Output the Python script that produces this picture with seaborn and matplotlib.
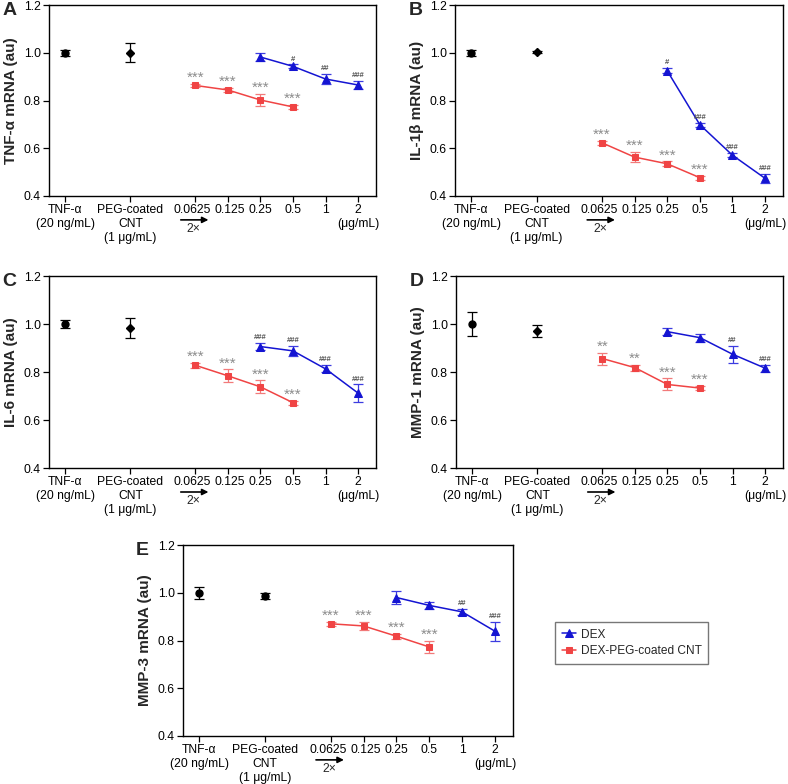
import numpy as np
import seaborn as sns
import matplotlib
matplotlib.use("Agg")
import matplotlib.pyplot as plt
import matplotlib.transforms as mtransforms

# categories on the x axis
tick_labels = ["TNF-\u03b1\n(20 ng/mL)", "PEG-coated\nCNT\n(1 \u03bcg/mL)", "0.0625", "0.125",
               "0.25", "0.5", "1", "2\n(\u03bcg/mL)"]
tick_pos = [0, 2, 4, 5, 6, 7, 8, 9]
red_pos = [4, 5, 6, 7]
blue_pos = [6, 7, 8, 9]

panels = ["A", "B", "C", "D", "E"]
ylabels = ["TNF-\u03b1 mRNA (au)", "IL-1\u03b2 mRNA (au)", "IL-6 mRNA (au)",
           "MMP-1 mRNA (au)", "MMP-3 mRNA (au)"]

# controls: TNF-a, PEG-coated CNT
tnf_val = [1.0, 1.0, 1.0, 1.0, 1.0]
tnf_err = [0.013, 0.013, 0.018, 0.05, 0.026]
peg_val = [1.0, 1.003, 0.984, 0.970, 0.986]
peg_err = [0.04, 0.005, 0.042, 0.025, 0.012]

# DEX-PEG-coated CNT (0.0625 .. 0.5)
red_val = [[0.863, 0.844, 0.802, 0.773],
           [0.623, 0.563, 0.535, 0.477],
           [0.828, 0.784, 0.738, 0.672],
           [0.856, 0.818, 0.748, 0.733],
           [0.870, 0.861, 0.818, 0.773]]
red_err = [[0.008, 0.01, 0.024, 0.01],
           [0.008, 0.02, 0.01, 0.008],
           [0.01, 0.027, 0.027, 0.008],
           [0.025, 0.012, 0.025, 0.01],
           [0.008, 0.018, 0.01, 0.027]]
red_sig = [["***"] * 4, ["***"] * 4, ["***"] * 4,
           ["**", "**", "***", "***"], ["***"] * 4]

# DEX (0.25 .. 2)
blue_val = [[0.982, 0.943, 0.890, 0.865],
            [0.925, 0.699, 0.571, 0.474],
            [0.906, 0.888, 0.813, 0.712],
            [0.968, 0.943, 0.874, 0.816],
            [0.980, 0.947, 0.920, 0.839]]
blue_err = [[0.017, 0.008, 0.02, 0.015],
            [0.01, 0.008, 0.008, 0.02],
            [0.015, 0.02, 0.015, 0.036],
            [0.015, 0.017, 0.035, 0.015],
            [0.027, 0.013, 0.012, 0.04]]
blue_sig = [["", "#", "##", "###"],
            ["#", "###", "###", "###"],
            ["###", "###", "###", "###"],
            ["", "", "##", "###"],
            ["", "", "##", "###"]]

peg_marker = ["D", "D", "D", "D", "o"]

sns.set_style("ticks")
plt.rcParams['font.family'] = ['Liberation Sans', 'DejaVu Sans']

fig = plt.figure(figsize=(7.88, 7.84), dpi=100)
W, H = 788.0, 784.0
boxes = [(49, 5, 376, 196), (455, 5, 783, 196), (49, 276, 376, 468),
         (456, 276, 783, 468), (183, 545, 513, 736)]

blue = "#1414d2"
red = "#f04444"
ebk = dict(capsize=3.4, elinewidth=0.9, capthick=0.9)

for i in range(5):
    x0, y0, x1, y1 = boxes[i]
    ax = fig.add_axes([x0 / W, 1 - y1 / H, (x1 - x0) / W, (y1 - y0) / H])

    # controls
    ax.errorbar([0], [tnf_val[i]], yerr=[tnf_err[i]], fmt="o", color="black",
                ms=5, **ebk)
    ax.errorbar([2], [peg_val[i]], yerr=[peg_err[i]], fmt=peg_marker[i], color="black",
                ms=5 if peg_marker[i] == "o" else 4.5, **ebk)

    # series
    ax.errorbar(blue_pos, blue_val[i], yerr=blue_err[i], fmt="none", ecolor="#3c3ce0", **ebk)
    ax.errorbar(red_pos, red_val[i], yerr=red_err[i], fmt="none", ecolor="#f27a7a", **ebk)
    sns.lineplot(x=blue_pos, y=blue_val[i], marker="^", markersize=5.5, color=blue,
                 markeredgecolor=blue, linewidth=1.1, ax=ax, label="DEX")
    sns.lineplot(x=red_pos, y=red_val[i], marker="s", markersize=5, color=red,
                 markeredgecolor=red, linewidth=1.1, ax=ax, label="DEX-PEG-coated CNT")

    # significance marks
    for p, v, e, s in zip(red_pos, red_val[i], red_err[i], red_sig[i]):
        ax.text(p, v + e - 0.004, s, ha="center", va="bottom", fontsize=11,
                color="#8c8c8c")
    for p, v, e, s in zip(blue_pos, blue_val[i], blue_err[i], blue_sig[i]):
        if s:
            ax.text(p, v + e + 0.008, s, ha="center", va="bottom", fontsize=5.5,
                    color="#555555", fontweight="bold")

    ax.set_xlim(-0.5, 9.55)
    ax.set_ylim(0.4, 1.2)
    ax.set_yticks([0.4, 0.6, 0.8, 1.0, 1.2])
    ax.set_yticklabels(["0.4", "0.6", "0.8", "1.0", "1.2"])
    ax.set_xticks(tick_pos)
    ax.set_xticklabels(tick_labels, va="top", linespacing=1.18)
    ax.tick_params(axis="both", labelsize=8.7, direction="out", length=4, width=0.9,
                   colors="black", pad=2)
    # small nudges so the crowded dose labels don't touch
    xl = ax.get_xticklabels()
    xl[2].set_transform(xl[2].get_transform() +
                        mtransforms.ScaledTranslation(-3 / 100, 0, fig.dpi_scale_trans))
    xl[3].set_transform(xl[3].get_transform() +
                        mtransforms.ScaledTranslation(2 / 100, 0, fig.dpi_scale_trans))
    for sp in ax.spines.values():
        sp.set_visible(True)
        sp.set_linewidth(1.0)
        sp.set_color("black")
    ax.set_ylabel(ylabels[i], fontsize=11, fontweight="bold", labelpad=4)
    ax.text(-0.142, 0.97, panels[i], transform=ax.transAxes, fontsize=14,
            fontweight="bold", ha="left", va="center")

    # 2x arrow under dilution series
    ax.annotate("", xy=(4.4, -0.125), xytext=(3.55, -0.125),
                xycoords=("data", "axes fraction"), textcoords=("data", "axes fraction"),
                arrowprops=dict(arrowstyle="-|>", color="black", lw=1.2,
                                mutation_scale=9, shrinkA=0, shrinkB=0),
                annotation_clip=False)
    ax.text(3.95, -0.14, "2\u00d7", transform=ax.get_xaxis_transform(),
            ha="center", va="top", fontsize=8.7)

    handles, labels = ax.get_legend_handles_labels()
    ax.get_legend().remove()
    if i == 4:
        leg = fig.legend(handles, labels, loc="upper left",
                         bbox_to_anchor=(555 / W, 1 - 622 / H), frameon=True,
                         fancybox=False, fontsize=8.6, handlelength=1.2,
                         borderpad=0.55, labelspacing=0.4, handletextpad=0.4,
                         borderaxespad=0)
        leg.get_frame().set_edgecolor("#555555")
        leg.get_frame().set_linewidth(1.0)

fig.savefig("out.png", dpi=100)
